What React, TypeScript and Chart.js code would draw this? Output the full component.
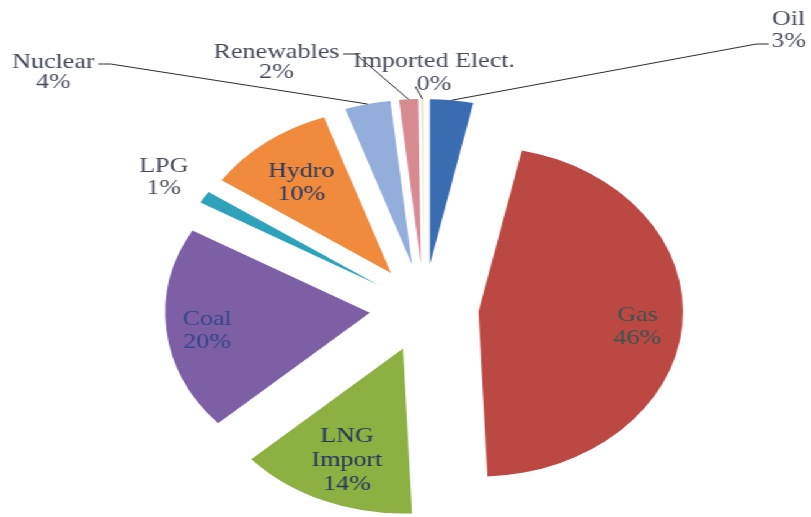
import React, { useEffect, useRef } from 'react';
import { Chart, registerables } from 'chart.js';

Chart.register(...registerables);

// ---------- data ----------
const CATEGORIES = ['Oil', 'Gas', 'LNG Import', 'Coal', 'LPG', 'Hydro', 'Nuclear', 'Renewables', 'Imported Elect.'];
const SHARES = [3.4, 45.9, 14.0, 20.0, 1.2, 10.2, 3.6, 1.5, 0.2];
const LABEL_LINES = [['Oil'], ['Gas'], ['LNG', 'Import'], ['Coal'], ['LPG'], ['Hydro'], ['Nuclear'], ['Renewables'], ['Imported Elect.']];

// ---------- style ----------
const COLORS = ['#3a6cb2', '#bb4843', '#8cb041', '#7c5fa5', '#2ea2ba', '#f08a3d', '#93aedb', '#d88a91', '#ece7c4'];
const CANVAS_W = 654;
const CANVAS_H = 517;
const STRETCH = 811 / CANVAS_W;
const PIE_RADIUS = 165;
const EXPLODE_PX = 44;
const FONT = '21px "Liberation Serif", "Times New Roman", serif';
const OUT_COLOR = '#454b5a';

type LabelCfg =
  | { mode: 'inside'; frac: number; color: string; lineH: number }
  | { mode: 'outside'; dx: number; dy: number; lineH: number; leader: 'right' | 'left' | 'below' | 'none' };

const LABEL_CFG: LabelCfg[] = [
  { mode: 'outside', dx: 294, dy: -278, lineH: 22, leader: 'left' },
  { mode: 'inside', frac: 0.78, color: '#3a5550', lineH: 23 },
  { mode: 'inside', frac: 0.71, color: '#24365f', lineH: 24 },
  { mode: 'inside', frac: 0.8, color: '#33458a', lineH: 23 },
  { mode: 'outside', dx: -210, dy: -131, lineH: 22, leader: 'none' },
  { mode: 'inside', frac: 0.72, color: '#2a3a62', lineH: 23 },
  { mode: 'outside', dx: -299, dy: -236, lineH: 20, leader: 'right' },
  { mode: 'outside', dx: -119, dy: -246, lineH: 20, leader: 'right' },
  { mode: 'outside', dx: 8, dy: -235, lineH: 23, leader: 'below' },
];
const INSIDE_SHIFT_Y = 4;

function pieCenter(chart: any) {
  const a = chart.chartArea;
  return { cx: (a.left + a.right) / 2, cy: (a.top + a.bottom) / 2 };
}

const explodePlugin = {
  id: 'explodeSlices',
  beforeDatasetsDraw(chart: any) {
    const { cx, cy } = pieCenter(chart);
    const meta = chart.getDatasetMeta(0);
    meta.data.forEach((arc: any) => {
      const mid = (arc.startAngle + arc.endAngle) / 2;
      arc.x = cx + Math.cos(mid) * EXPLODE_PX;
      arc.y = cy + Math.sin(mid) * EXPLODE_PX;
      arc.outerRadius = PIE_RADIUS;
    });
  },
};

const labelPlugin = {
  id: 'sliceLabels',
  afterDatasetsDraw(chart: any) {
    const ctx: CanvasRenderingContext2D = chart.ctx;
    const meta = chart.getDatasetMeta(0);
    const total = SHARES.reduce((a, b) => a + b, 0);
    const { cx, cy } = pieCenter(chart);
    ctx.save();
    ctx.font = FONT;
    ctx.textAlign = 'center';
    ctx.textBaseline = 'middle';
    meta.data.forEach((arc: any, i: number) => {
      const cfg = LABEL_CFG[i];
      const mid = (arc.startAngle + arc.endAngle) / 2;
      const ux = Math.cos(mid);
      const uy = Math.sin(mid);
      const vx = cx + ux * EXPLODE_PX;
      const vy = cy + uy * EXPLODE_PX;
      const pct = Math.round((SHARES[i] / total) * 100) + '%';
      const lines = [...LABEL_LINES[i], pct];
      let bx: number, by: number;
      if (cfg.mode === 'inside') {
        bx = vx + ux * PIE_RADIUS * cfg.frac;
        by = vy + uy * PIE_RADIUS * cfg.frac + INSIDE_SHIFT_Y;
        ctx.fillStyle = cfg.color;
      } else {
        bx = cx + cfg.dx;
        by = cy + cfg.dy;
        ctx.fillStyle = OUT_COLOR;
      }
      const n = lines.length;
      const ys = lines.map((_, k) => by + (k - (n - 1) / 2) * cfg.lineH);
      lines.forEach((t, k) => ctx.fillText(t, bx, ys[k]));

      if (cfg.mode === 'outside' && cfg.leader !== 'none') {
        const ex = vx + ux * PIE_RADIUS;
        const ey = vy + uy * PIE_RADIUS;
        ctx.beginPath();
        ctx.strokeStyle = '#2b2b2b';
        ctx.lineWidth = 1;
        if (cfg.leader === 'right') {
          const w = ctx.measureText(lines[0]).width;
          const sx = bx + w / 2 + 3;
          const sy = ys[0] + 2;
          ctx.moveTo(sx, sy);
          ctx.lineTo(sx + 10, sy);
          ctx.lineTo(ex, ey);
        } else if (cfg.leader === 'left') {
          const w = ctx.measureText(lines[n - 1]).width;
          const sx = bx - w / 2 - 2;
          const sy = ys[n - 1] + 3;
          ctx.moveTo(sx, sy);
          ctx.lineTo(sx - 10, sy);
          ctx.lineTo(ex, ey);
        } else {
          const w = ctx.measureText(lines[n - 1]).width;
          const sx = bx - w / 2 - 1;
          const sy = ys[n - 1] + 2;
          ctx.moveTo(sx, sy);
          ctx.lineTo(ex, ey);
        }
        ctx.stroke();
      }
    });
    ctx.restore();
  },
};

export default function App() {
  const canvasRef = useRef<HTMLCanvasElement | null>(null);

  useEffect(() => {
    if (!canvasRef.current) return;
    const chart = new Chart(canvasRef.current, {
      type: 'pie',
      data: {
        labels: CATEGORIES,
        datasets: [
          {
            data: SHARES,
            backgroundColor: COLORS,
            borderWidth: 0,
            radius: PIE_RADIUS,
          } as any,
        ],
      },
      options: {
        animation: false,
        responsive: true,
        maintainAspectRatio: false,
        layout: { padding: { left: 30, top: 99, right: 0, bottom: 0 } },
        plugins: {
          legend: { display: false },
          tooltip: { enabled: false },
        },
      },
      plugins: [explodePlugin, labelPlugin],
    });
    return () => chart.destroy();
  }, []);

  return (
    <div
      style={{
        position: 'fixed',
        left: 0,
        top: 0,
        width: CANVAS_W,
        height: CANVAS_H,
        transform: `scaleX(${STRETCH})`,
        transformOrigin: '0 0',
        background: '#ffffff',
      }}
    >
      <canvas ref={canvasRef} />
    </div>
  );
}
